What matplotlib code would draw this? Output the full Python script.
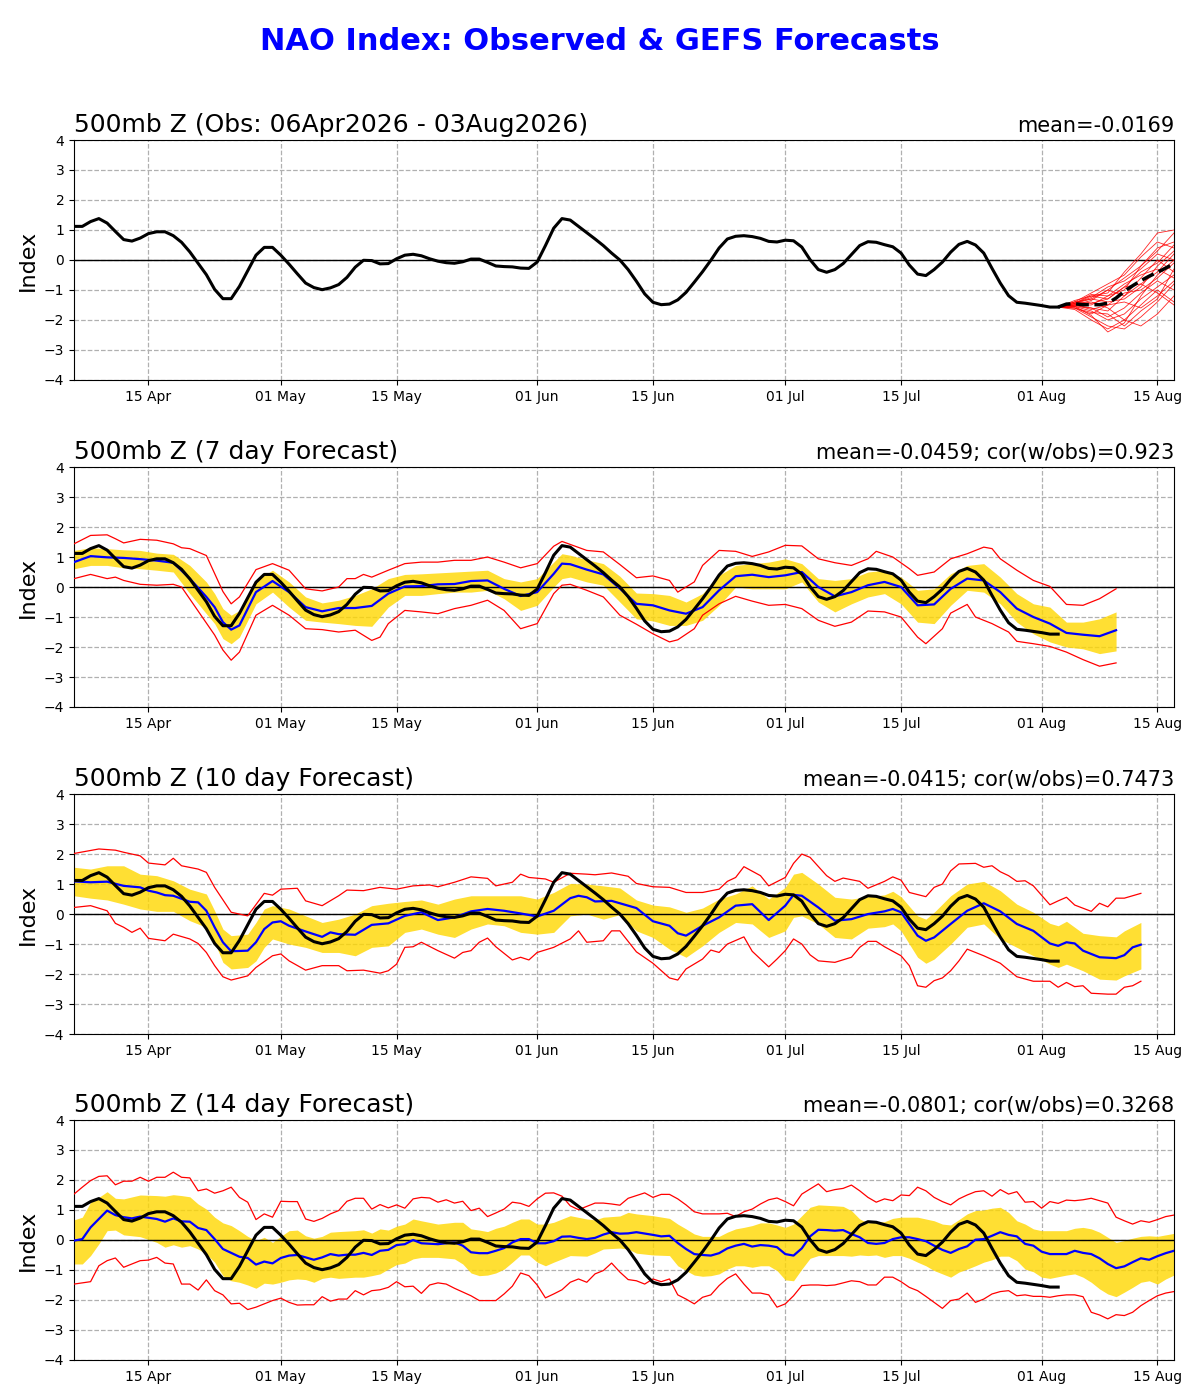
import numpy as np
import matplotlib
matplotlib.use('Agg')
import matplotlib.pyplot as plt
import matplotlib.dates as mdates

# ---- data ----
start = np.datetime64('2026-04-06')
last_day = 133   # 17 Aug

# observed NAO, daily 06Apr - 03Aug
obs = [1.12, 1.12, 1.28, 1.38, 1.23, 0.95, 0.68, 0.63, 0.73, 0.88,
       0.94, 0.94, 0.81, 0.59, 0.27, -0.11, -0.49, -0.98, -1.29, -1.29,
       -0.88, -0.36, 0.16, 0.42, 0.42, 0.16, -0.14, -0.46, -0.77, -0.92,
       -0.99, -0.93, -0.82, -0.58, -0.24, -0.01, -0.02, -0.13, -0.12, 0.04,
       0.16, 0.19, 0.14, 0.04, -0.04, -0.09, -0.11, -0.06, 0.03, 0.03,
       -0.08, -0.2, -0.22, -0.23, -0.27, -0.28, -0.07, 0.48, 1.06, 1.38,
       1.33, 1.12, 0.91, 0.7, 0.48, 0.23, 0.0, -0.32, -0.71, -1.13,
       -1.41, -1.49, -1.47, -1.33, -1.08, -0.74, -0.39, -0.01, 0.4, 0.7,
       0.79, 0.81, 0.78, 0.72, 0.62, 0.6, 0.66, 0.64, 0.43, 0.01,
       -0.32, -0.41, -0.32, -0.12, 0.18, 0.48, 0.61, 0.59, 0.51, 0.44,
       0.23, -0.17, -0.47, -0.52, -0.32, -0.07, 0.26, 0.52, 0.62, 0.5,
       0.23, -0.28, -0.77, -1.19, -1.41, -1.44, -1.48, -1.52, -1.57, -1.57]

# GEFS ensemble mean from 03Aug (dashed) and members (every 2 days)
ens_mean = [-1.57, -1.47, -1.46, -1.49, -1.49, -1.49, -1.44, -1.27,
            -1.04, -0.86, -0.69, -0.54, -0.41, -0.27, -0.12]
ens_day = [119, 121, 123, 125, 127, 129, 131, 133]
ens_members = [
    [-1.57, -1.45, -1.3, -1.0, -0.6, -0.2, 0.3, 0.9],
    [-1.57, -1.5, -1.6, -1.7, -1.2, -0.8, -0.4, 0.2],
    [-1.57, -1.6, -1.9, -2.2, -2.3, -1.9, -1.4, -0.8],
    [-1.57, -1.4, -1.1, -0.8, -0.5, 0.1, 0.6, 0.4],
    [-1.57, -1.55, -1.7, -2.0, -1.8, -1.3, -0.9, -0.5],
    [-1.57, -1.35, -1.2, -1.3, -0.9, -0.4, -0.1, 0.5],
    [-1.57, -1.6, -1.8, -1.5, -1.1, -1.0, -0.6, -0.1],
    [-1.57, -1.5, -1.4, -1.6, -2.0, -2.2, -1.8, -1.2],
    [-1.57, -1.45, -1.25, -0.9, -0.7, -0.3, 0.2, 0.0],
    [-1.57, -1.65, -2.0, -2.3, -2.0, -1.5, -1.0, -1.4],
    [-1.57, -1.5, -1.5, -1.2, -0.8, -0.5, -0.3, -0.6],
    [-1.57, -1.4, -1.3, -1.4, -1.3, -0.9, -0.2, 0.3],
    [-1.57, -1.55, -1.6, -1.9, -1.6, -1.1, -0.7, -1.0],
    [-1.57, -1.45, -1.2, -1.1, -0.4, 0.2, 0.9, 1.0],
    [-1.57, -1.6, -1.75, -1.8, -2.2, -1.7, -1.3, -0.3],
    [-1.57, -1.5, -1.35, -1.0, -1.2, -0.6, 0.0, -0.4],
    [-1.57, -1.55, -1.85, -2.4, -2.1, -1.2, -0.5, 0.0],
    [-1.57, -1.4, -1.45, -1.3, -0.9, -0.8, -1.1, -1.5],
    [-1.57, -1.5, -1.65, -1.5, -1.4, -1.6, -1.2, -0.7],
    [-1.57, -1.45, -1.15, -1.2, -1.0, -0.2, 0.4, 0.6],
]

# ---- 7 day forecast ----
p7_day = [0, 2, 4, 6, 8, 10, 12, 14, 16, 17, 18, 19, 20, 22, 24, 26, 28, 30, 32, 34,
          36, 38, 40, 42, 44, 46, 48, 50, 52, 54, 56, 58, 59, 60, 62, 64, 66,
          68, 70, 72, 74, 76, 78, 80, 82, 84, 86, 88, 90, 92, 94, 96, 98, 100,
          102, 104, 106, 108, 110, 112, 114, 116, 118, 120, 122, 124, 126]
p7_mean = [0.83, 1.03, 0.99, 0.97, 0.93, 0.88, 0.81, 0.28, -0.33, -0.67, -1.17, -1.42, -1.28,
           -0.17, 0.2, -0.17, -0.67, -0.81, -0.7, -0.7, -0.63, -0.22, 0.02, 0.03, 0.09, 0.1,
           0.2, 0.22, -0.06, -0.3, -0.17, 0.44, 0.78, 0.76, 0.58, 0.42, -0.05,
           -0.56, -0.61, -0.78, -0.89, -0.67, -0.11, 0.36, 0.41, 0.33, 0.39, 0.5, 0.0, -0.31,
           -0.17, 0.06, 0.17, 0.0, -0.61, -0.58, -0.06, 0.28, 0.22, -0.17, -0.72, -1.0, -1.22,
           -1.53, -1.59, -1.64, -1.44]
p7_hi = [1.22, 1.31, 1.28, 1.24, 1.22, 1.13, 1.09, 0.72, 0.17, -0.22, -0.72, -0.94, -0.78,
         0.22, 0.56, 0.17, -0.33, -0.53, -0.44, -0.28, -0.06, 0.28, 0.42, 0.44, 0.47, 0.5,
         0.53, 0.56, 0.28, 0.17, 0.28, 0.83, 1.11, 1.06, 0.91, 0.78, 0.36,
         -0.2, -0.22, -0.28, -0.5, -0.22, 0.39, 0.72, 0.78, 0.83, 0.94, 0.78, 0.28, 0.22,
         0.28, 0.5, 0.56, 0.33, -0.11, -0.06, 0.44, 0.72, 0.78, 0.33, -0.22, -0.56, -0.67,
         -1.17, -1.17, -1.06, -0.83]
p7_lo = [0.61, 0.72, 0.72, 0.64, 0.61, 0.56, 0.5, -0.22, -0.89, -1.22, -1.72, -1.89, -1.67,
         -0.56, -0.17, -0.67, -1.11, -1.17, -1.22, -1.28, -1.31, -0.67, -0.28, -0.28, -0.22,
         -0.17, -0.17, -0.11, -0.39, -0.78, -0.61, 0.0, 0.28, 0.33, 0.17, 0.06, -0.5,
         -1.06, -1.13, -1.28, -1.28, -1.11, -0.61, 0.0, -0.06, -0.06, -0.06, 0.17, -0.5, -0.83,
         -0.56, -0.33, -0.22, -0.56, -1.17, -1.22, -0.61, -0.11, -0.17, -0.56, -1.17, -1.56,
         -1.83, -2.0, -2.06, -2.22, -2.13]
p7_max_day = [0, 2, 4, 5, 6, 8, 10, 12, 13, 14, 16, 17, 18, 19, 20, 22, 24, 26, 28, 30,
              32, 33, 34, 35, 36, 38, 40, 42, 44, 46, 48, 50, 52, 54, 56, 58, 59, 60, 62, 64,
              66, 68, 70, 72, 73, 75, 76, 78, 80, 82, 84, 86, 88, 90, 92, 94, 96, 97, 99, 101,
              102, 104, 106, 108, 110, 111, 112, 114, 116, 118, 120, 122, 124, 126]
p7_max = [1.44, 1.72, 1.74, 1.61, 1.47, 1.59, 1.56, 1.44, 1.31, 1.28, 1.05, 0.45, -0.15, -0.56,
          -0.33, 0.58, 0.78, 0.56, -0.06, -0.13, 0.0, 0.28, 0.28, 0.42, 0.33, 0.56, 0.78, 0.83,
          0.83, 0.89, 0.89, 1.0, 0.83, 0.64, 0.78, 1.36, 1.52, 1.42, 1.22, 1.17, 0.75,
          0.31, 0.37, 0.22, -0.17, 0.17, 0.72, 1.22, 1.19, 1.02, 1.17, 1.39, 1.37, 0.94, 0.81,
          0.72, 0.94, 1.19, 1.0, 0.61, 0.39, 0.5, 0.94, 1.11, 1.33, 1.28, 0.94, 0.56, 0.22,
          0.02, -0.58, -0.61, -0.39, -0.06]
p7_min_day = [0, 2, 4, 5, 6, 8, 10, 12, 13, 14, 16, 17, 18, 19, 20, 22, 24, 26, 28, 30,
              32, 34, 35, 36, 37, 38, 40, 42, 44, 46, 48, 50, 52, 54, 56, 58, 59, 60, 62, 64,
              66, 68, 70, 72, 73, 75, 76, 78, 80, 82, 84, 86, 88, 90, 92, 94, 96, 98, 100, 102,
              103, 105, 106, 108, 109, 111, 113, 114, 116, 118, 120, 122, 124, 126]
p7_min = [0.28, 0.42, 0.28, 0.33, 0.22, 0.09, 0.06, 0.09, 0.0, -0.4, -1.2, -1.6, -2.1, -2.44,
          -2.17, -0.94, -0.61, -0.94, -1.39, -1.42, -1.5, -1.44, -1.61, -1.78, -1.67, -1.22,
          -0.78, -0.83, -0.89, -0.72, -0.61, -0.44, -0.78, -1.39, -1.22, -0.22, 0.06, 0.09,
          -0.11, -0.33, -0.94,
          -1.24, -1.56, -1.83, -1.76, -1.39, -0.94, -0.56, -0.31, -0.47, -0.61, -0.58, -0.72,
          -1.11, -1.31, -1.17, -0.8, -0.83, -1.0, -1.67, -1.89, -1.39, -0.87, -0.58, -1.0,
          -1.22, -1.5, -1.81, -1.89, -1.98, -2.17, -2.42, -2.64, -2.53]

# ---- 10 day forecast ----
p10_day = [0, 2, 4, 6, 8, 9, 10, 11, 12, 14, 15, 16, 17, 18, 19, 21, 22, 23, 24, 25,
           26, 28, 30, 31, 32, 34, 36, 38, 40, 42, 44, 46, 48, 50, 52, 54, 56, 58, 60, 61,
           62, 63, 65,
           66, 68, 70, 72, 73, 74, 76, 78, 80, 82, 84, 86, 87, 88, 90, 92, 94, 96, 98, 99,
           100, 102, 103, 104, 106, 108, 110, 112, 114, 116, 118, 119, 120, 121, 122, 124,
           126, 127, 128, 129]
p10_mean = [1.09, 1.06, 1.08, 0.94, 0.89, 0.78, 0.72, 0.63, 0.61, 0.41, 0.39, 0.11, -0.44,
            -0.94, -1.24, -1.22, -0.94, -0.5, -0.28, -0.24, -0.39, -0.58, -0.76, -0.61, -0.67,
            -0.69, -0.36, -0.31, -0.06, 0.06, -0.2, -0.11, 0.09, 0.17, 0.11, 0.02, -0.08, 0.11,
            0.53, 0.61, 0.56, 0.42, 0.44,
            0.36, 0.2, -0.24, -0.39, -0.64, -0.72, -0.39, -0.11, 0.28, 0.33, -0.2, 0.28, 0.64,
            0.61, 0.22, -0.22, -0.17, 0.0, 0.09, 0.17, 0.06, -0.72, -0.89, -0.78, -0.33, 0.11,
            0.36, 0.09, -0.33, -0.56, -0.98, -1.06, -0.94, -0.98, -1.22, -1.44, -1.47, -1.37,
            -1.11, -1.02]
p10_band_day = [0, 2, 4, 6, 8, 10, 12, 14, 16, 17, 18, 19, 21, 22, 23, 24, 26, 28, 30, 32,
                34, 36, 38, 40, 42, 44, 46, 48, 50, 52, 54, 56, 58, 60, 62, 64, 66,
                68, 70, 72, 74, 76, 78, 80, 82, 84, 86, 87, 88, 90, 92, 94, 96, 98, 99, 100,
                102, 103, 104, 106, 108, 110, 112, 114, 116, 118, 119, 120, 122, 124, 126,
                127, 129]
p10_hi = [1.56, 1.5, 1.61, 1.61, 1.33, 1.28, 1.11, 0.83, 0.67, 0.11, -0.5, -0.72, -0.67,
          -0.28, 0.17, 0.28, 0.17, -0.06, -0.28, -0.17, 0.0, 0.28, 0.36, 0.42, 0.47, 0.33,
          0.5, 0.61, 0.61, 0.61, 0.61, 0.5, 0.72, 1.02, 1.0, 0.94, 0.87,
          0.47, 0.3, 0.24, 0.06, 0.2, 0.5, 0.67, 0.94, 0.5, 0.89, 1.33, 1.39, 1.0, 0.56, 0.5,
          0.58, 0.64, 0.76, 0.58, -0.06, -0.17, 0.06, 0.61, 1.0, 1.09, 0.78, 0.33, 0.06,
          -0.31, -0.39, -0.24, -0.64, -0.72, -0.76, -0.56, -0.28]
p10_lo = [0.61, 0.53, 0.47, 0.33, 0.17, 0.09, 0.09, -0.22, -0.44, -0.94, -1.61, -1.83, -1.78,
          -1.56, -1.11, -0.83, -1.0, -1.11, -1.28, -1.28, -1.39, -1.11, -1.06, -0.61, -0.5,
          -0.67, -0.78, -0.5, -0.33, -0.39, -0.61, -0.67, -0.61, -0.06, 0.0, -0.17, -0.02,
          -0.56, -0.78, -1.17, -1.44, -1.06, -0.61, -0.28, -0.33, -0.78, -0.56, -0.11, -0.06,
          -0.33, -0.78, -0.83, -0.47, -0.42, -0.33, -0.56, -1.44, -1.64, -1.5, -1.0, -0.44,
          -0.33, -0.83, -1.11, -1.39, -1.67, -1.78, -1.67, -1.89, -2.17, -2.2, -2.06, -1.83]
p10_max_day = [0, 3, 5, 6, 8, 9, 11, 12, 13, 15, 16, 17, 19, 21, 23, 24, 25, 27, 28, 30,
               32, 33, 35, 37, 39, 41, 43, 44, 46, 48, 50, 51, 53, 54, 55, 57, 58, 60, 62, 63,
               65,
               67, 68, 70, 72, 74, 76, 78, 79, 80, 81, 83, 84, 86, 87, 88, 89, 91, 92, 93, 95,
               96, 98, 99, 100, 101, 103, 104, 105, 106, 107, 109, 110, 111, 112, 113, 114,
               115, 116, 118, 119, 120, 121, 123, 124, 125, 126, 127, 129]
p10_max = [2.02, 2.17, 2.13, 2.06, 1.94, 1.7, 1.64, 1.86, 1.61, 1.5, 1.39, 0.89, 0.06, -0.06,
           0.69, 0.63, 0.83, 0.86, 0.44, 0.28, 0.61, 0.8, 0.78, 0.89, 0.83, 0.94, 0.97, 0.91,
           1.06, 1.24, 1.19, 0.94, 1.06, 1.33, 1.22, 1.17, 1.06, 1.36, 1.33, 1.31, 1.37,
           1.26, 1.02, 0.91, 0.89, 0.72, 0.72, 0.83, 1.09, 1.22, 1.58, 1.28, 0.94, 1.22, 1.69,
           2.0, 1.89, 1.28, 1.09, 1.2, 1.09, 0.86, 1.09, 1.24, 1.13, 0.72, 0.58, 0.89, 1.0,
           1.44, 1.67, 1.69, 1.56, 1.61, 1.41, 1.28, 1.09, 1.11, 0.94, 0.31, 0.44, 0.56, 0.3,
           0.09, 0.36, 0.24, 0.53, 0.53, 0.69]
p10_min_day = [0, 2, 4, 5, 6, 7, 8, 9, 11, 12, 14, 15, 16, 17, 18, 19, 21, 22, 24, 25,
               26, 28, 30, 32, 33, 35, 37, 38, 39, 40, 41, 42, 44, 46, 47, 48, 49, 50, 51, 53,
               54, 55, 56, 58, 60, 61, 62, 64, 65, 66,
               68, 70, 72, 73, 74, 76, 77, 78, 79, 81, 82, 84, 85, 86, 87, 88, 89, 90, 92, 94,
               95, 96, 97, 98, 100, 101, 102, 103, 104, 105, 106, 107, 108, 110, 112, 114,
               116, 118, 119, 120, 121, 122, 123, 125, 126, 127, 128, 129]
p10_min = [0.22, 0.28, 0.11, -0.31, -0.44, -0.61, -0.47, -0.81, -0.89, -0.67, -0.83, -0.98,
           -1.28, -1.72, -2.09, -2.2, -2.06, -1.78, -1.39, -1.33, -1.56, -1.87, -1.72, -1.72,
           -1.89, -1.87, -1.97, -1.89, -1.67, -1.11, -1.09, -0.94, -1.22, -1.47, -1.28, -1.22,
           -0.94, -0.8, -1.09, -1.53, -1.44, -1.53, -1.28, -1.11, -0.83, -0.56, -0.94, -0.89,
           -0.56, -0.56,
           -1.26, -1.64, -2.13, -2.2, -1.83, -1.5, -1.2, -1.28, -1.0, -0.76, -1.24, -1.76,
           -1.5, -1.22, -0.83, -1.0, -1.36, -1.56, -1.61, -1.44, -1.11, -0.91, -0.91, -1.09,
           -1.39, -1.72, -2.39, -2.44, -2.22, -2.13, -1.89, -1.56, -1.17, -1.39, -1.64, -2.09,
           -2.24, -2.24, -2.44, -2.28, -2.42, -2.39, -2.64, -2.67, -2.67, -2.44, -2.39, -2.24]

# ---- 14 day forecast ----
p14_day = [0, 1, 2, 4, 5, 6, 7, 8, 10, 11, 12, 13, 14, 15, 16, 17, 18, 19, 20, 21,
           22, 23, 24, 25, 26, 27, 28, 29, 30, 31, 32, 33, 34, 35, 36, 37, 38, 39, 40, 41,
           42, 44, 46, 47, 48, 49, 50, 51, 52, 53, 54, 55, 56, 57, 58, 59, 60, 61, 62, 63,
           64, 65,
           66, 67, 68, 70, 71, 72, 73, 74, 75, 76, 77, 78, 79, 80, 81, 82, 83, 84, 85, 86,
           87, 88, 89, 90, 91, 92, 93, 94, 95, 96, 97, 98, 99, 100, 101, 102, 103, 104, 105,
           106, 107, 108, 109, 110, 111, 112, 113, 114, 115, 116, 117, 118, 120, 121, 122,
           123, 124, 125, 126, 127, 128, 129, 130, 131, 132, 133]
p14_mean = [-0.02, 0.03, 0.42, 0.98, 0.83, 0.76, 0.72, 0.78, 0.7, 0.61, 0.72, 0.62, 0.61, 0.4,
            0.33, 0.03, -0.3, -0.43, -0.56, -0.6, -0.82, -0.72, -0.78, -0.6, -0.52, -0.5, -0.58,
            -0.66, -0.58, -0.47, -0.52, -0.49, -0.49, -0.43, -0.5, -0.36, -0.33, -0.17, -0.14,
            0.0, -0.11, -0.14, -0.08, -0.19, -0.41, -0.44, -0.44, -0.36, -0.27, -0.08, 0.03,
            0.03, -0.11, -0.11, -0.04, 0.11, 0.12, 0.07, 0.03, 0.07, 0.18, 0.26,
            0.21, 0.22, 0.26, 0.17, 0.12, 0.14, -0.1, -0.3, -0.47, -0.5, -0.52, -0.44, -0.28,
            -0.19, -0.13, -0.22, -0.17, -0.19, -0.24, -0.47, -0.52, -0.28, 0.12, 0.34, 0.33,
            0.31, 0.33, 0.2, 0.09, -0.1, -0.13, -0.1, 0.03, 0.09, 0.09, 0.03, -0.04, -0.19,
            -0.33, -0.43, -0.3, -0.21, 0.01, 0.03, 0.14, 0.26, 0.17, 0.12, -0.13, -0.19, -0.39,
            -0.47, -0.47, -0.36, -0.43, -0.47, -0.61, -0.8, -0.94, -0.88, -0.74, -0.61, -0.66,
            -0.54, -0.44, -0.36]
p14_band_day = [0, 1, 2, 3, 4, 5, 6, 8, 10, 11, 12, 13, 14, 15, 16, 17, 18, 19, 20, 21,
                22, 23, 24, 25, 26, 27, 28, 29, 30, 31, 32, 34, 35, 36, 37, 38, 39, 40, 41, 42,
                44, 46, 47, 48, 49, 50, 51, 52, 53, 54, 55, 56, 57, 58, 59, 60, 62, 63, 64,
                66, 67, 68, 70, 72, 73, 74, 75, 76, 77, 78, 79, 80, 81, 82, 83, 84, 85, 86, 87,
                88, 89, 90, 92, 93, 94, 95, 96, 97, 98, 99, 100, 101, 102, 103, 104, 105, 106,
                107, 108, 109, 110, 111, 112, 113, 114, 115, 116, 117, 118, 120, 121, 122, 123,
                124, 125, 126, 127, 128, 129, 130, 131, 132, 133]
p14_hi = [0.67, 0.76, 1.26, 1.42, 1.61, 1.39, 1.37, 1.5, 1.48, 1.46, 1.51, 1.48, 1.44, 1.2,
          1.03, 0.76, 0.57, 0.48, 0.31, 0.12, -0.02, 0.09, -0.08, 0.12, 0.31, 0.33, 0.14, 0.06,
          0.12, 0.26, 0.28, 0.31, 0.34, 0.23, 0.37, 0.33, 0.46, 0.53, 0.7, 0.64, 0.53, 0.59,
          0.59, 0.37, 0.33, 0.28, 0.39, 0.46, 0.59, 0.7, 0.7, 0.53, 0.53, 0.59, 0.7, 0.81, 0.7,
          0.67, 0.76,
          0.8, 0.92, 0.87, 0.81, 0.72, 0.53, 0.37, 0.2, 0.12, 0.12, 0.12, 0.26, 0.37, 0.42,
          0.48, 0.57, 0.57, 0.5, 0.42, 0.53, 0.81, 1.09, 1.17, 1.14, 1.12, 0.98, 0.7, 0.57,
          0.59, 0.61, 0.72, 0.76, 0.76, 0.76, 0.7, 0.64, 0.53, 0.5, 0.68, 0.87, 0.98, 1.0,
          1.06, 1.09, 0.92, 0.64, 0.53, 0.37, 0.31, 0.31, 0.31, 0.39, 0.42, 0.37, 0.26, 0.09,
          -0.08, -0.02, 0.06, 0.12, 0.14, 0.12, 0.17, 0.22]
p14_lo = [-0.8, -0.8, -0.52, -0.13, 0.31, 0.33, 0.17, 0.11, -0.08, -0.24, -0.16, -0.24, -0.19,
          -0.3, -0.47, -0.74, -1.19, -1.36, -1.41, -1.5, -1.61, -1.44, -1.47, -1.41, -1.33,
          -1.3, -1.32, -1.41, -1.28, -1.24, -1.28, -1.24, -1.24, -1.19, -1.13, -0.97, -0.82,
          -0.77, -0.63, -0.58, -0.58, -0.63, -0.8, -1.1, -1.19, -1.17, -1.1, -0.97, -0.74,
          -0.5, -0.5, -0.74, -0.86, -0.74, -0.63, -0.52, -0.54, -0.43, -0.3,
          -0.27, -0.3, -0.44, -0.5, -0.52, -0.86, -1.02, -1.17, -1.21, -1.19, -1.13, -0.97,
          -0.86, -0.86, -0.91, -0.86, -0.86, -1.02, -1.33, -1.36, -0.97, -0.61, -0.52, -0.52,
          -0.52, -0.54, -0.5, -0.52, -0.5, -0.58, -0.52, -0.52, -0.61, -0.74, -0.86, -1.02,
          -1.13, -1.24, -1.07, -0.97, -0.86, -0.74, -0.66, -0.54, -0.54, -0.69, -0.97, -1.06,
          -1.24, -1.28, -1.17, -1.13, -1.24, -1.41, -1.63, -1.8, -1.89, -1.74, -1.58, -1.41,
          -1.36, -1.47, -1.3, -1.17]
p14_max = [1.53, 1.76, 1.98, 2.12, 2.14, 1.84, 1.96, 1.96, 2.09, 1.96,
           2.09, 2.09, 2.26, 2.09, 2.07, 1.64, 1.7, 1.56, 1.64, 1.76,
           1.42, 1.26, 0.68, 0.87, 0.76, 1.29, 1.28, 1.28, 0.7, 0.62,
           0.72, 0.87, 0.98, 1.29, 1.39, 1.39, 1.03, 1.18, 1.07, 1.17,
           1.06, 1.37, 1.42, 1.4, 1.26, 1.34, 1.23, 1.29, 0.98, 1.06,
           0.78, 0.9, 1.03, 1.26, 1.22, 1.12, 1.37, 1.56, 1.57, 1.46,
           1.14, 1.01, 1.12, 1.23, 1.23, 1.2, 1.16,
           1.39, 1.48, 1.57, 1.42, 1.52, 1.52, 1.37, 1.17, 0.94, 0.87,
           0.87, 0.87, 0.89, 0.78, 0.94, 1.03, 1.2, 1.34, 1.4, 1.28,
           1.14, 1.53, 1.7, 1.87, 1.61, 1.68, 1.72, 1.83, 1.64, 1.42,
           1.26, 1.37, 1.31, 1.5, 1.48, 1.76, 1.64, 1.42, 1.28, 1.17,
           1.37, 1.5, 1.61, 1.64, 1.46, 1.68, 1.53, 1.61, 1.26, 1.28,
           1.06, 1.28, 1.22, 1.33, 1.31, 1.34, 1.39, 1.31, 1.23, 0.76,
           0.64, 0.53, 0.64, 0.59, 0.68, 0.78, 0.83]
p14_min_day = [0] + list(range(2, 47)) + list(range(48, 134))
p14_min = [-1.47,
           -1.39, -0.86, -0.69, -0.6, -0.91, -0.8, -0.69, -0.67, -0.58, -0.77,
           -0.8, -1.47, -1.47, -1.67, -1.33, -1.69, -1.83, -2.13, -2.11, -2.32,
           -2.24, -2.13, -2.02, -1.94, -2.08, -2.17, -2.16, -2.16, -1.89, -2.04,
           -1.97, -1.97, -1.69, -1.83, -1.69, -1.66, -1.58, -1.39, -1.56, -1.54,
           -1.78, -1.5, -1.43, -1.47, -1.61,
           -1.86, -2.02, -2.02, -2.02, -1.8, -1.54, -1.1, -1.19, -1.5, -1.93,
           -1.8, -1.66, -1.41, -1.3, -1.41, -1.13, -1.02, -0.77,
           -1.07, -1.32, -1.36, -1.47, -1.3, -1.39, -1.3, -1.83, -1.97, -2.13,
           -1.91, -1.83, -1.52, -1.28, -1.13, -1.47, -1.77, -1.77, -1.83, -2.24,
           -2.13, -1.86, -1.52, -1.5, -1.5, -1.52, -1.5, -1.43, -1.36, -1.39,
           -1.5, -1.5, -1.24, -1.24, -1.39, -1.58, -1.69, -1.88, -2.08, -2.28,
           -2.02, -1.97, -1.77, -2.08, -1.97, -1.8, -1.72, -1.69, -1.86, -1.83,
           -1.88, -1.88, -1.91, -1.86, -1.83, -1.83, -1.89, -2.41, -2.5, -2.63,
           -2.49, -2.52, -2.41, -2.19, -2.02, -1.86, -1.77, -1.72]

titles = ['500mb Z (Obs: 06Apr2026 - 03Aug2026)', '500mb Z (7 day Forecast)',
          '500mb Z (10 day Forecast)', '500mb Z (14 day Forecast)']
stats = ['mean=-0.0169', 'mean=-0.0459; cor(w/obs)=0.923',
         'mean=-0.0415; cor(w/obs)=0.7473', 'mean=-0.0801; cor(w/obs)=0.3268']


def dates(days):
    return start + np.array(days, dtype='timedelta64[D]')


def style_axes(ax, left_title, right_title):
    ax.set_xlim(start, start + np.timedelta64(last_day, 'D'))
    ax.set_ylim(-4, 4)
    ax.set_yticks(range(-4, 5))
    ax.xaxis.set_major_locator(mdates.DayLocator(bymonthday=[1, 15]))
    ax.xaxis.set_major_formatter(mdates.DateFormatter('%d %b'))
    ax.tick_params(labelsize=10)
    ax.grid(True, color='#b0b0b0', linestyle='--', linewidth=0.9)
    ax.set_axisbelow(True)
    ax.axhline(0, color='black', linewidth=1, zorder=2)
    ax.set_ylabel('Index', fontsize=16)
    ax.set_title(left_title, loc='left', fontsize=18)
    ax.set_title(right_title, loc='right', fontsize=15)


fig = plt.figure(figsize=(12, 14), dpi=100)
fig.suptitle('NAO Index: Observed & GEFS Forecasts', fontsize=22, fontweight='bold',
             color='blue', y=0.981)

bottoms = [0.7286, 0.495, 0.2614, 0.0286]
axes = [fig.add_axes([0.0617, b, 0.9166, 0.1714]) for b in bottoms]
obs_days = np.arange(len(obs))

# panel 1: observations + ensemble
ax = axes[0]
style_axes(ax, titles[0], stats[0])
for m in ens_members:
    ax.plot(dates(ens_day), m, color='red', linewidth=0.6, alpha=0.85, zorder=3)
ax.plot(dates(obs_days), obs, color='black', linewidth=2.2, zorder=5)
ax.plot(dates(np.arange(119, 119 + len(ens_mean))), ens_mean, color='black',
        linewidth=2.5, linestyle='--', zorder=6)

forecasts = [
    (p7_day, p7_mean, p7_day, p7_hi, p7_lo, p7_max_day, p7_max, p7_min_day, p7_min),
    (p10_day, p10_mean, p10_band_day, p10_hi, p10_lo, p10_max_day, p10_max, p10_min_day, p10_min),
    (p14_day, p14_mean, p14_band_day, p14_hi, p14_lo, np.arange(len(p14_max)), p14_max,
     p14_min_day, p14_min),
]

for ax, title, stat, fc in zip(axes[1:], titles[1:], stats[1:], forecasts):
    mday, mean, bday, hi, lo, xday, vmax, nday, vmin = fc
    style_axes(ax, title, stat)
    ax.fill_between(dates(bday), lo, hi, color='gold', alpha=0.8, linewidth=0, zorder=1)
    ax.plot(dates(xday), vmax, color='red', linewidth=0.9, zorder=3)
    ax.plot(dates(nday), vmin, color='red', linewidth=0.9, zorder=3)
    ax.plot(dates(mday), mean, color='blue', linewidth=1.6, zorder=4)
    ax.plot(dates(obs_days), obs, color='black', linewidth=2.2, zorder=5)

fig.savefig('out.png', dpi=100)
